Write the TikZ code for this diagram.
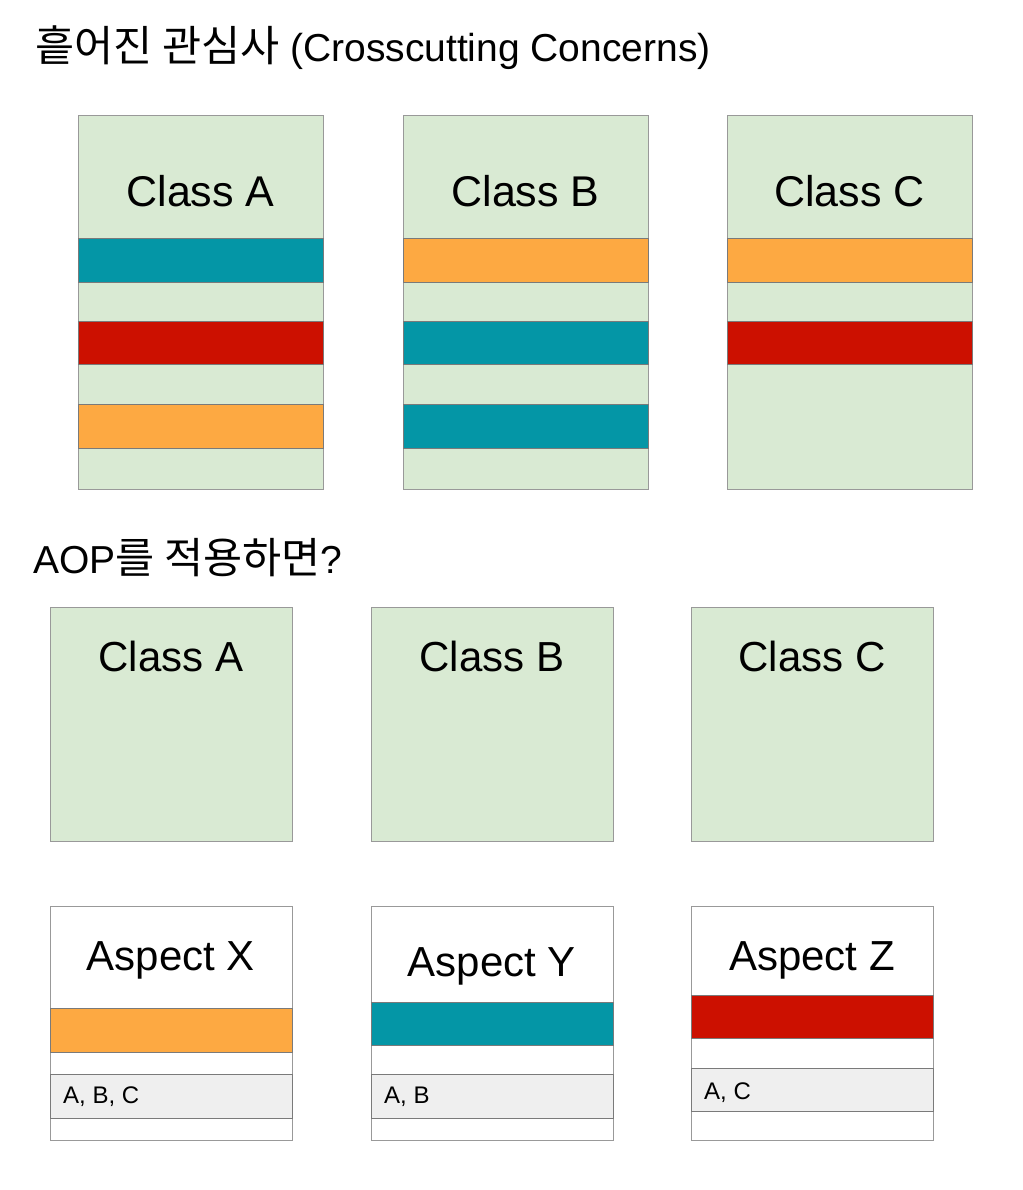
\documentclass[tikz,border=0pt]{standalone}
\usepackage{fontspec}
\setmainfont{Liberation Sans}
\newfontfamily\kr[Scale=1.09]{Noto Sans CJK KR}
\definecolor{boxgreen}{HTML}{D9EAD3}
\definecolor{stcyan}{HTML}{0496A6}
\definecolor{stred}{HTML}{CC1000}
\definecolor{storange}{HTML}{FDA942}
\definecolor{rowgray}{HTML}{EFEFEF}
\definecolor{edgegray}{HTML}{999999}
\tikzset{
  cls/.style={draw=edgegray, line width=1.3pt, fill=boxgreen, inner sep=0pt, anchor=north west},
  asp/.style={draw=edgegray, line width=1.3pt, fill=white, inner sep=0pt, anchor=north west},
  band/.style={draw=edgegray!80!black, line width=0.8pt, inner sep=0pt, anchor=north west},
  big/.style={font=\fontsize{43}{50}\selectfont, inner sep=0pt, anchor=base},
  mid/.style={font=\fontsize{42}{50}\selectfont, inner sep=0pt, anchor=base},
  small/.style={font=\fontsize{24}{28}\selectfont, inner sep=0pt, anchor=base west},
  head/.style={font=\fontsize{39}{46}\selectfont, inner sep=0pt, anchor=base west},
}
\begin{document}
\begin{tikzpicture}[x=1pt, y=-1pt]
\useasboundingbox (0,0) rectangle (1022,1190);
% titles
\node[head] (t1) at (35,62) {{\kr 흩어진 관심사} (Crosscutting Concerns)};
\node[head] (t2) at (33,573) {AOP{\kr 를 적용하면}?};
% top classes
\node[cls, minimum width=245pt, minimum height=374pt] (ca) at (78,115) {};
\node[band, fill=stcyan, minimum width=245pt, minimum height=44pt] (ca1) at (78,238) {};
\node[band, fill=stred, minimum width=245pt, minimum height=43pt] (ca2) at (78,321) {};
\node[band, fill=storange, minimum width=245pt, minimum height=44pt] (ca3) at (78,404) {};
\node[big] (cat) at (200.5,207) {Class A};

\node[cls, minimum width=245pt, minimum height=374pt] (cb) at (403,115) {};
\node[band, fill=storange, minimum width=245pt, minimum height=44pt] (cb1) at (403,238) {};
\node[band, fill=stcyan, minimum width=245pt, minimum height=43pt] (cb2) at (403,321) {};
\node[band, fill=stcyan, minimum width=245pt, minimum height=44pt] (cb3) at (403,404) {};
\node[big] (cbt) at (525.5,207) {Class B};

\node[cls, minimum width=245pt, minimum height=374pt] (cc) at (727,115) {};
\node[band, fill=storange, minimum width=245pt, minimum height=44pt] (cc1) at (727,238) {};
\node[band, fill=stred, minimum width=245pt, minimum height=43pt] (cc2) at (727,321) {};
\node[big] (cct) at (849.5,207) {Class C};

% bottom classes
\node[cls, minimum width=242pt, minimum height=234pt] (da) at (50,607) {};
\node[mid] (dat) at (171,671) {Class A};
\node[cls, minimum width=242pt, minimum height=234pt] (db) at (371,607) {};
\node[mid] (dbt) at (492,671) {Class B};
\node[cls, minimum width=242pt, minimum height=234pt] (dc) at (691,607) {};
\node[mid] (dct) at (812,671) {Class C};

% aspects
\node[asp, minimum width=242pt, minimum height=234pt] (ax) at (50,906) {};
\node[band, fill=storange, minimum width=242pt, minimum height=44pt] (ax1) at (50,1008) {};
\node[band, fill=rowgray, minimum width=242pt, minimum height=44pt] (ax2) at (50,1074) {};
\node[mid] (axt) at (171,970) {Aspect X};
\node[small] (axl) at (63,1103) {A, B, C};

\node[asp, minimum width=242pt, minimum height=234pt] (ay) at (371,906) {};
\node[band, fill=stcyan, minimum width=242pt, minimum height=43pt] (ay1) at (371,1002) {};
\node[band, fill=rowgray, minimum width=242pt, minimum height=44pt] (ay2) at (371,1074) {};
\node[mid] (ayt) at (492,976) {Aspect Y};
\node[small] (ayl) at (384,1103) {A, B};

\node[asp, minimum width=242pt, minimum height=234pt] (az) at (691,906) {};
\node[band, fill=stred, minimum width=242pt, minimum height=43pt] (az1) at (691,995) {};
\node[band, fill=rowgray, minimum width=242pt, minimum height=43pt] (az2) at (691,1068) {};
\node[mid] (azt) at (812,970) {Aspect Z};
\node[small] (azl) at (704,1099) {A, C};
\end{tikzpicture}
\end{document}
